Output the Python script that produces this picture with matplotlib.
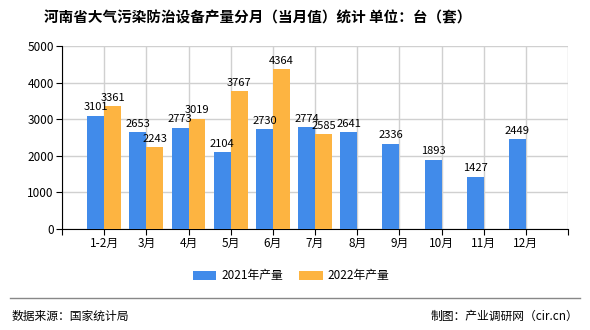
import matplotlib
matplotlib.use("Agg")
import matplotlib.pyplot as plt
import numpy as np

plt.rcParams['font.family'] = ['Noto Sans CJK SC', 'DejaVu Sans']

months = ["1-2月", "3月", "4月", "5月", "6月", "7月", "8月", "9月", "10月", "11月", "12月"]
prod_2021 = [3101, 2653, 2773, 2104, 2730, 2774, 2641, 2336, 1893, 1427, 2449]
prod_2022 = [3361, 2243, 3019, 3767, 4364, 2585]

blue = "#418BEA"
orange = "#FDB441"

fig = plt.figure(figsize=(5.9, 3.3), dpi=100)
ax = fig.add_axes([62 / 590, 1 - 229 / 330, (568 - 62) / 590, (229 - 46) / 330])

x = np.arange(len(months))
w = 0.4
b1 = ax.bar(x[:len(prod_2021)] - w / 2, prod_2021, w, color=blue, label="2021年产量", zorder=3)
b2 = ax.bar(x[:len(prod_2022)] + w / 2, prod_2022, w, color=orange, label="2022年产量", zorder=3)

for bars, vals in ((b1, prod_2021), (b2, prod_2022)):
    for r, v in zip(bars, vals):
        ax.text(r.get_x() + r.get_width() / 2, v + 90, str(v), ha="center", va="bottom",
                fontsize=8, color="black", zorder=4)

ax.set_xlim(-1, len(months))
ax.set_ylim(0, 5000)
ax.set_yticks(range(0, 5001, 1000))
ax.set_xticks(np.arange(-1, len(months) + 1))
ax.set_xticklabels([""] + months + [""])
ax.tick_params(labelsize=8.5, length=4, color="black", pad=2)

ax.grid(True, color="#d0d0d0", linewidth=1, zorder=0)
for s in ("top", "right"):
    ax.spines[s].set_visible(False)
ax.spines["left"].set_color("black")
ax.spines["bottom"].set_color("black")

fig.text(258 / 590, 1 - 17 / 330, "河南省大气污染防治设备产量分月（当月值）统计 单位：台（套）",
         ha="center", va="center", fontsize=10.5, fontweight="bold")

fig.legend(handles=[b1, b2], loc="center", bbox_to_anchor=(291 / 590, 1 - 276 / 330), ncol=2,
           frameon=False, fontsize=8.5, handlelength=2.0, handleheight=0.7,
           handletextpad=0.4, columnspacing=1.4)

fig.add_artist(plt.Line2D([10 / 590, 580 / 590], [1 - 298 / 330, 1 - 298 / 330],
                          color="#888888", linewidth=1))
fig.text(12 / 590, 1 - 316 / 330, "数据来源：国家统计局", ha="left", va="center", fontsize=8.5)
fig.text(578 / 590, 1 - 316 / 330, "制图：产业调研网（cir.cn）", ha="right", va="center", fontsize=8.5)

fig.savefig("out.png", dpi=100)
